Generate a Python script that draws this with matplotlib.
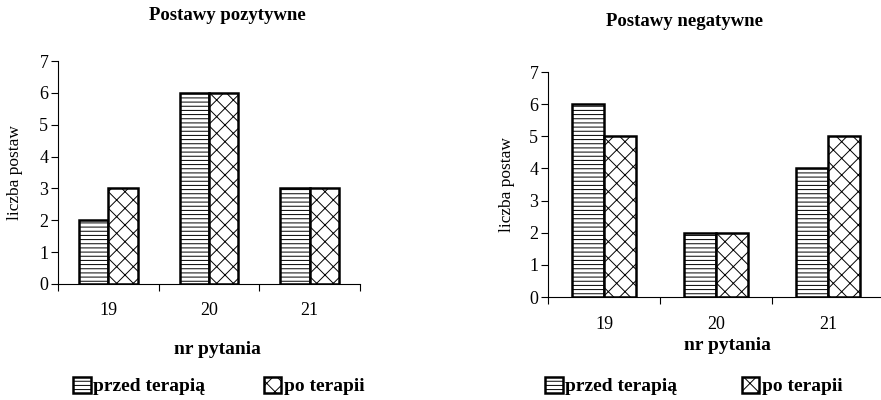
import matplotlib.pyplot as plt
from matplotlib.patches import Patch
import numpy as np

# dane
pytania = ["19", "20", "21"]
poz_przed = [2, 6, 3]
poz_po = [3, 6, 3]
neg_przed = [6, 2, 4]
neg_po = [5, 2, 5]

plt.rcParams['font.family'] = ['Liberation Serif', 'DejaVu Serif']
plt.rcParams['hatch.linewidth'] = 0.7

W, H = 881, 400
fig = plt.figure(figsize=(W / 100, H / 100), dpi=100)


def px(x, y):
    # piksele (od lewego górnego rogu) -> ułamek figury
    return x / W, 1 - y / H


def wykres(x0, x1, y0, y1, przed, po, tytul, tx, ty, ylx, lx, ly, leg_x, leg_y, colsp, tick_pad):
    ax = fig.add_axes([x0 / W, 1 - y0 / H, (x1 - x0) / W, (y0 - y1) / H])
    x = np.arange(len(pytania))
    w = 0.29
    ax.bar(x - w / 2, przed, w, color='white', edgecolor='black', hatch='----', linewidth=1.8)
    ax.bar(x + w / 2, po, w, color='white', edgecolor='black', hatch='xx', linewidth=1.8)
    ax.set_xlim(-0.5, 2.5)
    ax.set_ylim(0, 7)
    ax.set_yticks(range(8))
    ax.set_xticks(x)
    ax.set_xticklabels(pytania)
    ax.set_xticks([-0.5, 0.5, 1.5, 2.5], minor=True)
    ax.tick_params(axis='x', which='major', length=0, pad=tick_pad, labelsize=13)
    ax.tick_params(axis='x', which='minor', length=5, width=0.8)
    ax.tick_params(axis='y', length=5, width=0.8, labelsize=13, pad=2)
    for s in ['top', 'right']:
        ax.spines[s].set_visible(False)
    ax.spines['left'].set_linewidth(0.8)
    ax.spines['bottom'].set_linewidth(0.8)

    fig.text(*px(tx, ty), tytul, fontsize=13.5, fontweight='bold', ha='center', va='center')
    fig.text(*px(ylx, (y0 + y1) / 2), "liczba postaw", fontsize=12.5, rotation=90,
             ha='center', va='center')
    fig.text(*px(lx, ly), "nr pytania", fontsize=14, fontweight='bold', ha='center', va='center')

    uchwyty = [Patch(facecolor='white', edgecolor='black', hatch='----', linewidth=1.8),
               Patch(facecolor='white', edgecolor='black', hatch='xx', linewidth=1.8)]
    fig.legend(uchwyty, ["przed terapią", "po terapii"], ncol=2, frameon=False,
               loc='center left', bbox_to_anchor=px(leg_x, leg_y), handlelength=0.9,
               handleheight=0.9, handletextpad=0.15, columnspacing=colsp,
               borderpad=0, borderaxespad=0,
               prop={'weight': 'bold', 'size': 14})
    return ax


wykres(58, 360, 284, 61, poz_przed, poz_po, "Postawy pozytywne",
       227, 15, 15, 217, 350, 73, 386, 3.0, 13)
wykres(548, 884, 297, 72, neg_przed, neg_po, "Postawy negatywne",
       685, 22, 507, 727, 345, 545, 386, 3.3, 14)

fig.savefig("out.png", dpi=100)
